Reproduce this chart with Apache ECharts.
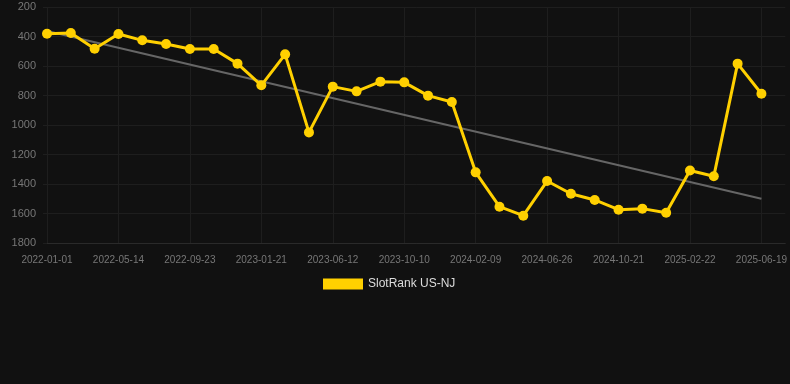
<!DOCTYPE html>
<html>
<head>
<meta charset="utf-8">
<script src="https://cdn.jsdelivr.net/npm/echarts@6/dist/echarts.min.js"></script>
<style>
html,body{margin:0;padding:0;background:#111111;}
#chart{width:790px;height:384px;}
</style>
</head>
<body>
<div id="chart"></div>
<script>
const categories = ["2022-01-01","2022-02-14","2022-03-30","2022-05-14","2022-06-27","2022-08-10","2022-09-23","2022-11-02","2022-12-12","2023-01-21","2023-03-08","2023-04-27","2023-06-12","2023-07-22","2023-08-31","2023-10-10","2023-11-20","2023-12-30","2024-02-09","2024-03-24","2024-05-10","2024-06-26","2024-08-04","2024-09-12","2024-10-21","2024-12-01","2025-01-11","2025-02-22","2025-04-01","2025-05-10","2025-06-19"];
const rankValues = [381,376,483,383,426,451,485,485,584,731,521,1050,740,772,706,711,801,844,1321,1554,1615,1380,1466,1508,1574,1567,1595,1308,1348,584,788];
const trendStart = 363;
const trendEnd = 1500;
const yTicks = [200,400,600,800,1000,1200,1400,1600,1800];
const seriesName = "SlotRank US-NJ";

const chart = echarts.init(document.getElementById('chart'));
chart.setOption({
  backgroundColor: '#111111',
  animation: false,
  grid: {left: 47, right: 0, top: 7, bottom: 141, containLabel: false},
  legend: {
    data: [seriesName],
    top: 273,
    left: 318,
    itemWidth: 40,
    itemHeight: 11,
    itemGap: 10,
    textStyle: {color: '#dddddd', fontSize: 12, fontFamily: 'Liberation Sans, Arial, sans-serif'},
    icon: 'rect'
  },
  xAxis: {
    type: 'category',
    data: categories,
    boundaryGap: false,
    min: 0,
    max: 31.175,
    axisLine: {show: true, lineStyle: {color: '#2a2a2a'}},
    axisTick: {show: false},
    axisLabel: {color: '#777777', fontSize: 10, interval: 2, margin: 12, fontFamily: 'Liberation Sans, Arial, sans-serif'},
    splitLine: {show: true, interval: 2, lineStyle: {color: '#1e1e1e'}}
  },
  yAxis: {
    type: 'value',
    inverse: true,
    min: yTicks[0],
    max: yTicks[yTicks.length - 1],
    interval: 200,
    axisLine: {show: false},
    axisTick: {show: true, length: 4, lineStyle: {color: '#1e1e1e'}},
    axisLabel: {color: '#777777', fontSize: 11, margin: 11, formatter: function (v) { return String(v); }, fontFamily: 'Liberation Sans, Arial, sans-serif'},
    splitLine: {show: true, lineStyle: {color: '#1e1e1e'}}
  },
  series: [
    {
      name: 'trend',
      type: 'line',
      data: [[categories[0], trendStart], [categories[categories.length - 1], trendEnd]],
      symbol: 'none',
      lineStyle: {color: '#666666', width: 2},
      z: 1,
      silent: true
    },
    {
      name: seriesName,
      type: 'line',
      data: rankValues,
      symbol: 'circle',
      symbolSize: 10,
      itemStyle: {color: '#FFD000'},
      lineStyle: {color: '#FFD000', width: 3},
      z: 2
    }
  ]
});
</script>
</body>
</html>
